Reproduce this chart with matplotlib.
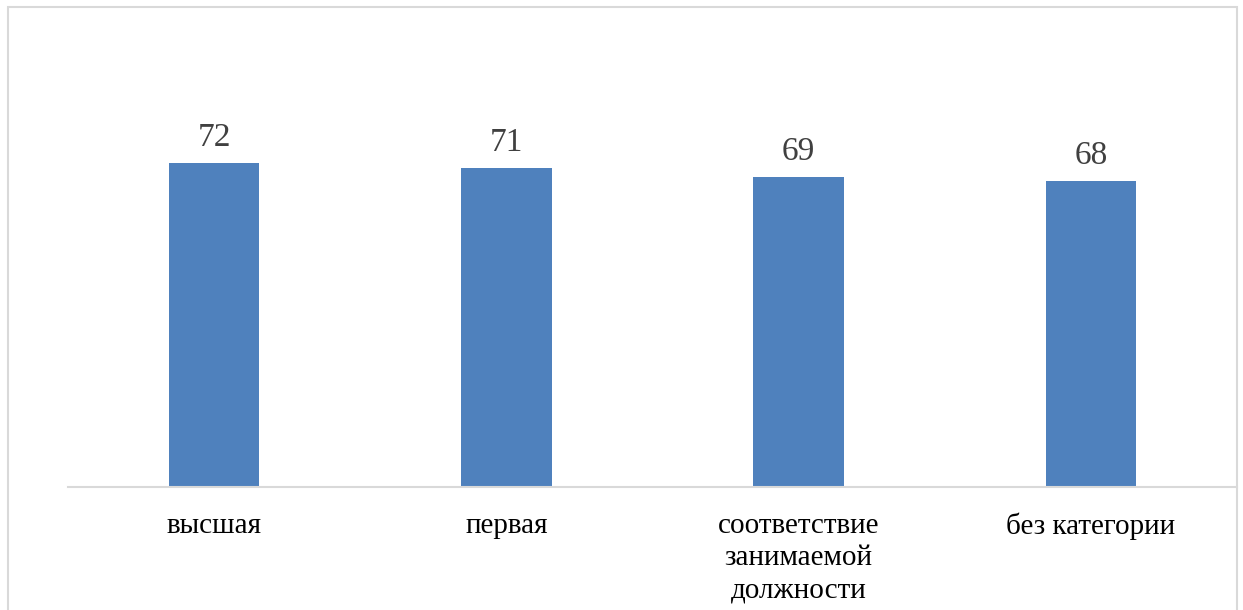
import matplotlib
matplotlib.use("Agg")
import matplotlib.pyplot as plt
from matplotlib.patches import Rectangle

categories = ["высшая", "первая", "соответствие\nзанимаемой\nдолжности", "без категории"]
values = [72, 71, 69, 68]

plt.rcParams['font.family'] = ['Liberation Serif', 'DejaVu Serif']

W, H, DPI = 1243, 610, 100
fig = plt.figure(figsize=(W / DPI, H / DPI), dpi=DPI)
fig.patch.set_facecolor("white")

# chart frame (open at the bottom edge)
fig.patches.append(Rectangle((8 / W, -0.05), (1237 - 8) / W, 1.05 - 7 / H,
                             transform=fig.transFigure, fill=False,
                             edgecolor="#D9D9D9", linewidth=1.5))

ax = fig.add_axes([68 / W, 1 - 487 / H, (1237 - 68) / W, (487 - 37) / H])
x = range(len(categories))
bars = ax.bar(x, values, width=0.31, color="#4F81BD")

ax.set_xlim(-0.5, len(categories) - 0.5)
ax.set_ylim(0, 100)

for b, v in zip(bars, values):
    ax.annotate(str(v), (b.get_x() + b.get_width() / 2, v),
                xytext=(0, 7), textcoords="offset points",
                ha="center", va="bottom", fontsize=24, color="#404040")

ax.set_xticks(list(x))
ax.set_xticklabels(categories, fontsize=21, color="black", linespacing=1.32)
ax.tick_params(axis="x", length=0, pad=18.5)
ax.set_yticks([])

for side in ["top", "right", "left"]:
    ax.spines[side].set_visible(False)
ax.spines["bottom"].set_color("#D9D9D9")
ax.spines["bottom"].set_linewidth(1.5)

fig.savefig("out.png", dpi=DPI, facecolor="white")
